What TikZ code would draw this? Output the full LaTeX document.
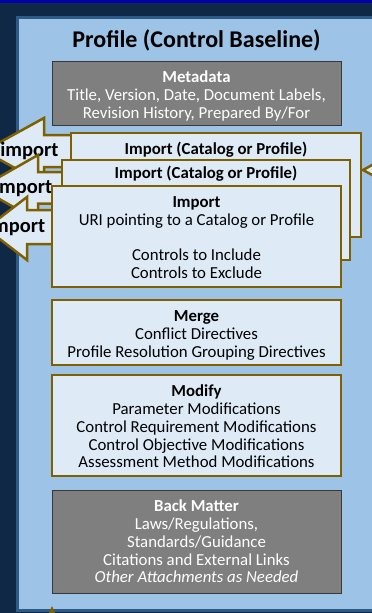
\documentclass[tikz,border=0pt]{standalone}
\usepackage{fontspec}
\setmainfont{Carlito}
\definecolor{navy}{HTML}{0F2846}
\definecolor{topband}{HTML}{0000A8}
\definecolor{panelfill}{HTML}{9DC3E6}
\definecolor{paneledge}{HTML}{2E5A87}
\definecolor{boxgray}{HTML}{7F7F7F}
\definecolor{grayedge}{HTML}{383838}
\definecolor{importfill}{HTML}{DEEBF7}
\definecolor{gold}{HTML}{7F6000}
\newcommand{\pfbody}{\fontsize{16.8}{17.8}\selectfont}
\begin{document}
\begin{tikzpicture}[x=1pt,y=-1pt,
  box/.style={rectangle, inner sep=0pt, minimum width=289pt},
  graybox/.style={box, fill=boxgray, draw=grayedge, line width=1pt},
  importbox/.style={box, fill=importfill, draw=gold, line width=2.5pt},
  boxtext/.style={inner sep=0pt, align=center, font=\pfbody, text=black},
  graytext/.style={boxtext, text=white},
  blockarrow/.style={fill=importfill, draw=gold, line width=2.5pt, line join=miter},
  arrowlabel/.style={font=\fontsize{20.5}{22}\selectfont\bfseries, text=black, inner sep=0pt},
  boxtitle/.style={font=\pfbody\bfseries, text=black, inner sep=0pt},
]
\useasboundingbox (0,0) rectangle (372,613);

% background and panel
\fill[navy] (0,0) rectangle (372,613);
\fill[topband] (0,0) rectangle (372,3);
\draw[fill=panelfill, draw=paneledge, line width=3pt] (17.5,17.5) rectangle (392,610.5);

% heading
\node[font=\fontsize{24}{28}\selectfont\bfseries, inner sep=0pt] (title) at (196.5,40) {Profile (Control Baseline)};

% metadata
\node[graybox, minimum height=64pt] (meta) at (196.5,93) {};
\node[graytext] (metatext) at ([yshift=-3pt]meta.center)
  {\textbf{Metadata}\\Title, Version, Date, Document Labels,\\Revision History, Prepared By/For};

% incoming import from the right
\draw[blockarrow] (363,170) -- (385,158) -- (385,182) -- cycle;

% first import
\node[importbox, minimum width=290pt, minimum height=104pt] (imp1) at (216,185) {};
\node[boxtitle] (imp1t) at ([yshift=-18pt]imp1.north) {Import (Catalog or Profile)};
\draw[blockarrow] (imp1.west |- 0,135) -- (44,135) -- (44,118) -- (-16,151)
  -- (44,184) -- (44,167) -- (imp1.west |- 0,167);
\node[arrowlabel] (arr1) at (29.5,151) {import};

% second import
\node[importbox, minimum width=288pt, minimum height=100pt] (imp2) at (206,210) {};
\node[boxtitle] (imp2t) at ([yshift=-15pt]imp2.north) {Import (Catalog or Profile)};
\draw[blockarrow] (imp2.west |- 0,172) -- (38,172) -- (38,155) -- (-20,188)
  -- (38,221) -- (38,203.5) -- (imp2.west |- 0,203.5);
\node[arrowlabel] (arr2) at (23,188) {Import};

% third import
\node[importbox, minimum height=101pt] (imp3) at (196.5,236.5) {};
\node[boxtext] (imp3text) at ([yshift=-1pt]imp3.center)
  {\textbf{Import}\\URI pointing to a Catalog or Profile\\[17.8pt]Controls to Include\\Controls to Exclude};
\draw[blockarrow] (imp3.west |- 0,210) -- (27,210) -- (27,197) -- (-14,228.5)
  -- (27,260) -- (27,244) -- (imp3.west |- 0,244);
\node[arrowlabel] (arr3) at (16,227) {Import};

% merge and modify
\node[importbox, minimum height=65pt] (merge) at (196.5,332.5) {};
\node[boxtext] (mergetext) at ([yshift=-3pt]merge.center)
  {\textbf{Merge}\\Conflict Directives\\Profile Resolution Grouping Directives};
\node[importbox, minimum height=101pt] (modify) at (196.5,425.5) {};
\node[boxtext] (modifytext) at ([yshift=-1pt]modify.center)
  {\textbf{Modify}\\Parameter Modifications\\Control Requirement Modifications\\Control Objective Modifications\\Assessment Method Modifications};

% back matter
\node[graybox, minimum height=103pt] (back) at (196.5,541.5) {};
\node[graytext] (backtext) at (back.center)
  {\textbf{Back Matter}\\Laws/Regulations,\\Standards/Guidance\\Citations and External Links\\\textit{Other Attachments as Needed}};

% tip of an arrow rising from below
\fill[gold] (48.5,614) -- (52,606) -- (55.5,614) -- cycle;
\end{tikzpicture}
\end{document}
